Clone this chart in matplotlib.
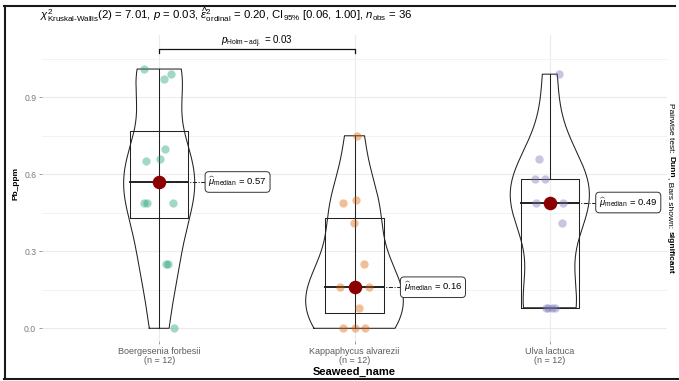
import numpy as np
import matplotlib
matplotlib.use("Agg")
import matplotlib.pyplot as plt
from matplotlib.lines import Line2D

plt.rcParams['font.family'] = ['Liberation Sans', 'DejaVu Sans']
plt.rcParams['mathtext.fontset'] = 'custom'
plt.rcParams['mathtext.rm'] = 'Liberation Sans'
plt.rcParams['mathtext.it'] = 'Liberation Sans:italic'
plt.rcParams['mathtext.bf'] = 'Liberation Sans:bold'

# Pb concentration (ppm) per seaweed species
seaweeds = ["Boergesenia forbesii", "Kappaphycus alvarezii", "Ulva lactuca"]
pb_boergesenia = [1.01, 0.99, 0.97, 0.70, 0.65, 0.66, 0.49, 0.49, 0.49, 0.25, 0.25, 0.00]
pb_kappaphycus = [0.75, 0.49, 0.50, 0.41, 0.25, 0.16, 0.16, 0.16, 0.08, 0.00, 0.00, 0.00]
pb_ulva = [0.99, 0.66, 0.58, 0.58, 0.49, 0.49, 0.49, 0.41, 0.08, 0.08, 0.08, 0.08]
groups = [pb_boergesenia, pb_kappaphycus, pb_ulva]

# horizontal jitter of the raw points (category units)
jitter = [
    [-0.080, 0.060, 0.026, 0.031, -0.067, 0.004, -0.077, -0.060, 0.072, 0.034, 0.046, 0.077],
    [0.014, -0.061, 0.008, -0.003, 0.050, -0.074, 0.076, 0.000, 0.022, -0.057, 0.000, 0.054],
    [0.048, -0.056, -0.077, -0.026, -0.072, 0.068, 0.000, 0.063, -0.009, 0.009, 0.026, -0.020],
]
colors = ["#1B9E77", "#D95F02", "#7570B3"]  # Dark2

subtitle = (r"$\chi^2_{\mathrm{Kruskal\text{-}Wallis}}$(2) = 7.01, $\mathit{p}$ = 0.03, "
            r"$\widehat{\varepsilon}^2_{\mathrm{ordinal}}$ = 0.20, CI$_{95\%}$ [0.06, 1.00], "
            r"$\mathit{n}_{\mathrm{obs}}$ = 36")
pair_label = r"$\mathit{p}_{\mathrm{Holm-adj.}}$ = 0.03"
pair_y = 1.087
caption_parts = [("Pairwise test: ", "normal"), ("Dunn", "bold"),
                 (", Bars shown: ", "normal"), ("significant", "bold")]


def ydensity(v, n=512):
    # gaussian kde with R's nrd0 bandwidth, trimmed to the data range
    v = np.asarray(v, dtype=float)
    q1, q3 = np.percentile(v, [25, 75])
    bw = 0.9 * min(v.std(ddof=1), (q3 - q1) / 1.34) * len(v) ** -0.2
    grid = np.linspace(v.min(), v.max(), n)
    z = (grid[:, None] - v[None, :]) / bw
    dens = np.exp(-0.5 * z ** 2).sum(1) / (len(v) * bw * np.sqrt(2 * np.pi))
    return grid, dens


W, H = 679, 381
fig = plt.figure(figsize=(W / 100, H / 100), dpi=100)
ax = fig.add_axes([42 / W, (H - 341) / H, 625 / W, 306 / H])
ax.set_xlim(0.4, 3.6)
ax.set_ylim(-0.0495, 1.1426)

dens = [ydensity(v) for v in groups]
dmax = max(d.max() for _, d in dens)
ink = '#222222'

for i, (vals, col) in enumerate(zip(groups, colors)):
    x = i + 1
    v = np.asarray(vals)
    # violin
    grid, d = dens[i]
    hw = 0.25 * d / dmax
    ax.fill_betweenx(grid, x - hw, x + hw, facecolor='white', alpha=0.2, zorder=2)
    ax.plot(np.r_[x - hw, (x + hw)[::-1], x - hw[0]], np.r_[grid, grid[::-1], grid[0]],
            color=ink, lw=0.75, zorder=3)
    # box and whiskers
    q1, med, q3 = np.percentile(v, [25, 50, 75])
    iqr = q3 - q1
    lo = v[v >= q1 - 1.5 * iqr].min()
    hi = v[v <= q3 + 1.5 * iqr].max()
    ax.plot([x - 0.15, x + 0.15, x + 0.15, x - 0.15, x - 0.15], [q1, q1, q3, q3, q1],
            color=ink, lw=0.75, zorder=3)
    ax.plot([x, x], [lo if lo < q1 else q3, hi], color=ink, lw=0.75, zorder=3)
    # points
    ax.scatter(x + np.asarray(jitter[i]), v, s=36, color=col, alpha=0.4, lw=0, zorder=4)
    # median marker and label
    ax.plot([x, x + 0.235], [med, med], color=ink, lw=0.75, ls=(0, (4, 1.5, 1, 1.5)), zorder=3)
    ax.plot([x - 0.15, x + 0.15], [med, med], color=ink, lw=1.4, zorder=3)
    ax.scatter([x], [med], s=95, color='#8B0000', lw=0, zorder=5)
    ax.text(x + 0.252, med, r"$\widehat{\mu}_{\mathrm{median}}$ = %.2f" % med, fontsize=6.8,
            va='center', ha='left', zorder=6,
            bbox=dict(boxstyle='round,pad=0.35,rounding_size=0.4', fc='white', ec='#333333', lw=0.7))

# significant pairwise comparison
ax.plot([1, 1, 2, 2], [pair_y - 0.014, pair_y, pair_y, pair_y - 0.014], color='#111111', lw=0.9, zorder=3)
ax.text(1.5, pair_y + 0.018, pair_label, fontsize=7, ha='center', va='baseline')

ax.set_xticks([1, 2, 3])
ax.set_xticklabels([f"{s}\n(n = {len(v)})" for s, v in zip(seaweeds, groups)],
                   fontsize=6.5, color='#5c5c5c', linespacing=1.05)
ax.set_yticks([0, 0.3, 0.6, 0.9])
ax.set_yticklabels(["0.0", "0.3", "0.6", "0.9"], fontsize=6.2, color='#7a7a7a')
ax.set_yticks([0.15, 0.45, 0.75, 1.05], minor=True)
ax.tick_params(which='major', length=2.2, width=0.6, color='#8c8c8c', pad=2)
ax.tick_params(which='minor', length=0)
ax.grid(which='major', color='#ebebeb', lw=0.8)
ax.grid(which='minor', axis='y', color='#f0f0f0', lw=0.6)
ax.set_axisbelow(True)
for sp in ax.spines.values():
    sp.set_visible(False)

fig.text(16 / W, 1 - 184 / H, "Pb_ppm", rotation=90, fontsize=6, fontweight='bold', ha='center', va='center')
fig.text(354.5 / W, 1 - 375 / H, "Seaweed_name", fontsize=8, fontweight='bold', ha='center', va='baseline')
fig.text(40 / W, 1 - 19 / H, subtitle, fontsize=8.2, ha='left', va='baseline')

# right-hand caption, mixed weights, running top to bottom
renderer = fig.canvas.get_renderer()
widths = []
for s, wt in caption_parts:
    t = fig.text(0, 0, s, fontsize=6, fontweight=wt)
    widths.append(t.get_window_extent(renderer).width)
    t.remove()
y = 188.5 - sum(widths) / 2
for (s, wt), w in zip(caption_parts, widths):
    fig.text(669 / W, 1 - y / H, s, rotation=270, rotation_mode='anchor', fontsize=6,
             fontweight=wt, ha='left', va='baseline')
    y += w

# outer frame
frame = dict(color='#1a1a1a', lw=1.5, transform=fig.transFigure)
fig.add_artist(Line2D([4.5 / W, 4.5 / W], [2 / H, 375 / H], **frame))
fig.add_artist(Line2D([4 / W, 675 / W], [375 / H, 375 / H], **frame))
fig.add_artist(Line2D([4 / W, 1], [2 / H, 2 / H], **frame))

fig.savefig("out.png", dpi=100)
